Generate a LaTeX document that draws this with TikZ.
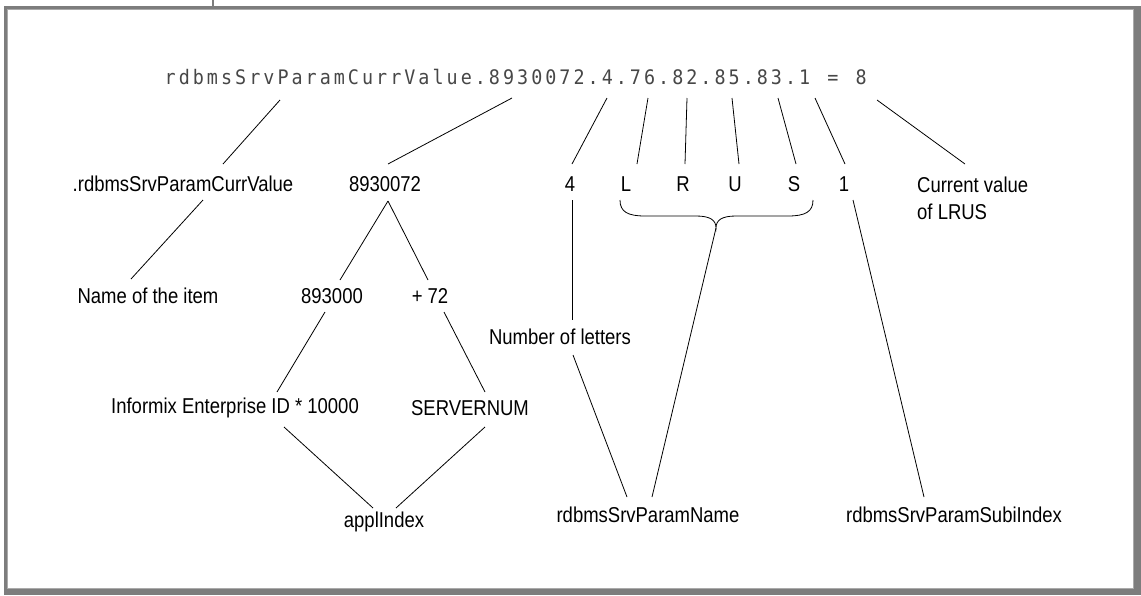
\documentclass[tikz,border=0pt]{standalone}
\usepackage{fontspec}
\setmainfont{Liberation Sans}[FakeStretch=0.86]
\newfontfamily\topmono{DejaVu Sans Mono}[FakeStretch=0.92]
\definecolor{framegray}{RGB}{125,125,125}
\definecolor{framelight}{RGB}{170,170,170}
\def\spmend{spmend-marker}
\newcommand\spacedmono[1]{\spmloop#1\spmend}
\def\spmloop#1{\ifx#1\spmend\else\makebox[14.1pt]{#1}\expandafter\spmloop\fi}
\begin{document}
\begin{tikzpicture}[x=1pt,y=-1pt,
  lbl/.style={inner sep=0pt, font=\fontsize{21.5}{27}\selectfont, text=black},
  conn/.style={line width=0.8pt, black}]
\useasboundingbox (0,0) rectangle (1141,595);
% frame
\fill[framegray] (4,6) rectangle (1141,595);
\fill[white] (7,9) rectangle (1134,589);
\draw[framelight, line width=0.8pt] (7.4,589) -- (7.4,9.4) -- (1134,9.4);
\draw[framelight, line width=0.8pt] (7,588.6) -- (1133.6,588.6) -- (1133.6,9);
\draw[framegray, line width=1.5pt] (213,0) -- (213,6);

% top OID string
\node[inner sep=0pt, anchor=base west, text=black!72,
      font=\topmono\fontsize{20}{24}\selectfont] (top) at (163,84)
  {\spacedmono{rdbmsSrvParamCurrValue.8930072.4.76.82.85.83.1~=~8}};

% row 1
\node[lbl] (dot) at (183,184) {.rdbmsSrvParamCurrValue};
\node[lbl] (n89) at (385,184) {8930072};
\node[lbl] (four) at (570,184) {4};
\node[lbl] (L) at (626,184) {L};
\node[lbl] (R) at (683,184) {R};
\node[lbl] (U) at (735,184) {U};
\node[lbl] (S) at (794,184) {S};
\node[lbl] (one) at (844,184) {1};
\node[lbl, align=left, anchor=west] (cur) at (917,198.5) {Current value\\of LRUS};

% row 2
\node[lbl] (name) at (148,296) {Name of the item};
\node[lbl] (n893) at (332,296) {893000};
\node[lbl] (p72) at (430,296) {+ 72};
\node[lbl] (num) at (560,337) {Number of letters};

% row 3
\node[lbl] (inf) at (235,408) {Informix Enterprise ID * 10000};
\node[lbl] (serv) at (470,408) {SERVERNUM};

% row 4
\node[lbl] (appl) at (384,522) {applIndex};
\node[lbl] (pname) at (648,515) {rdbmsSrvParamName};
\node[lbl] (subi) at (954,515) {rdbmsSrvParamSubiIndex};

\coordinate (bracetip) at (716,228);

% connectors from the OID string
\draw[conn] ([shift={(117,16)}]top.base west) -- ([shift={(40,-20)}]dot.center);
\draw[conn] ([shift={(349,14)}]top.base west) -- ([shift={(3,-20)}]n89.center);
\draw[conn] ([shift={(444,14)}]top.base west) -- ([shift={(2,-20)}]four.center);
\draw[conn] ([shift={(485,14)}]top.base west) -- ([shift={(11,-20)}]L.center);
\draw[conn] ([shift={(524,14)}]top.base west) -- ([shift={(2,-20)}]R.center);
\draw[conn] ([shift={(569,14)}]top.base west) -- ([shift={(4,-20)}]U.center);
\draw[conn] ([shift={(615,14)}]top.base west) -- ([shift={(2,-20)}]S.center);
\draw[conn] ([shift={(652,14)}]top.base west) -- ([shift={(1,-20)}]one.center);
\draw[conn] ([shift={(714,16)}]top.base west) -- ([shift={(48,-34.5)}]cur.west);

% left tree
\draw[conn] ([shift={(20,16)}]dot.center) -- ([shift={(-17,-17)}]name.center);
\draw[conn] ([shift={(3,17)}]n89.center) -- ([shift={(8,-16)}]n893.center);
\draw[conn] ([shift={(3,17)}]n89.center) -- ([shift={(-2,-16)}]p72.center);
\draw[conn] ([shift={(-7,16)}]n893.center) -- ([shift={(42,-16)}]inf.center);
\draw[conn] ([shift={(14,16)}]p72.center) -- ([shift={(15,-16)}]serv.center);
\draw[conn] ([shift={(49,19)}]inf.center) -- ([shift={(-11,-14)}]appl.center);
\draw[conn] ([shift={(15,19)}]serv.center) -- ([shift={(12,-14)}]appl.center);

% right part
\draw[conn] ([shift={(2,16)}]four.center) -- ([shift={(12,-17)}]num.center);
\draw[conn] ([shift={(13,18)}]num.center) -- ([shift={(-21,-18)}]pname.center);
\draw[conn] ([shift={(-6,16)}]L.center)
  .. controls +(0,12) and +(-17,0) .. (645,216)
  -- (696,216)
  .. controls (710,216) and (716,220) .. (bracetip)
  .. controls (716,220) and (722,216) .. (736,216)
  -- (788,216)
  .. controls (805,216) and ([shift={(19,28)}]S.center) .. ([shift={(19,16)}]S.center);
\draw[conn] (bracetip) -- ([shift={(4,-18)}]pname.center);
\draw[conn] ([shift={(9,16)}]one.center) -- ([shift={(-30,-18)}]subi.center);
\end{tikzpicture}
\end{document}
